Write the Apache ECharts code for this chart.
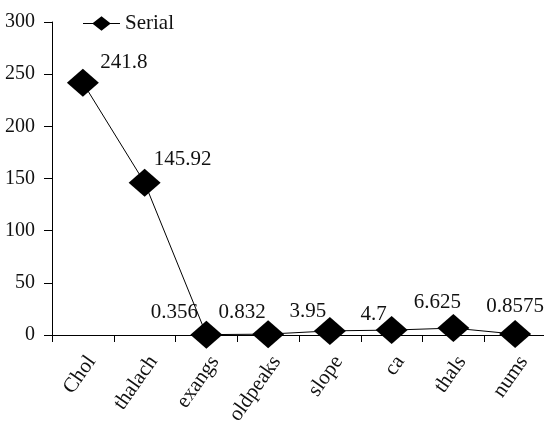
<!DOCTYPE html>
<html>
<head>
<meta charset="utf-8">
<script src="https://cdn.jsdelivr.net/npm/echarts@6/dist/echarts.min.js"></script>
<style>
html,body{margin:0;padding:0;background:#fff;}
#chart{width:544px;height:421px;}
</style>
</head>
<body>
<div id="chart"></div>
<script>
const categories = ["Chol", "thalach", "exangs", "oldpeaks", "slope", "ca", "thals", "nums"];
const serialValues = [241.8, 145.92, 0.356, 0.832, 3.95, 4.7, 6.625, 0.8575];
const yTicks = [0, 50, 100, 150, 200, 250, 300];
const seriesName = "Serial";

// label placement tweaks (style only)
const labelOffsets = [[41, 9], [38, 6], [-32, 7], [-26, 8], [-22, 10], [-18, 14], [-16, 4], [0, 2]];

const FONT = "'Liberation Serif', 'Times New Roman', serif";
const chart = echarts.init(document.getElementById('chart'), null, {renderer: 'canvas'});

const seriesData = serialValues.map((v, i) => ({
  value: v,
  label: {offset: labelOffsets[i]}
}));

const legendIcon = 'path://M0,8.5 H36 V9.5 H0 Z M18,2 L27,9 L18,16 L9,9 Z';

chart.setOption({
  animation: false,
  backgroundColor: '#ffffff',
  grid: {left: 52, right: -2, top: 22, bottom: 86, containLabel: false, outerBoundsMode: 'none'},
  legend: {
    show: true,
    left: 78,
    top: 8,
    itemWidth: 37,
    itemHeight: 18,
    itemGap: 6,
    data: [{name: seriesName, icon: legendIcon}],
    itemStyle: {color: '#000'},
    textStyle: {fontFamily: FONT, fontSize: 21, color: '#111', padding: [0, 0, 0, 0]}
  },
  xAxis: {
    type: 'category',
    data: categories,
    boundaryGap: true,
    axisLine: {show: true, lineStyle: {color: '#000', width: 1}},
    axisTick: {show: true, length: 7, lineStyle: {color: '#000'}},
    axisLabel: {rotate: 55, margin: 17, verticalAlign: 'top', fontFamily: FONT, fontSize: 21, color: '#111'},
    splitLine: {show: false}
  },
  yAxis: {
    type: 'value',
    min: yTicks[0],
    max: yTicks[yTicks.length - 1],
    interval: 50,
    axisLine: {show: true, lineStyle: {color: '#000', width: 1}},
    axisTick: {show: true, length: 8, lineStyle: {color: '#000'}},
    axisLabel: {margin: 17, fontFamily: FONT, fontSize: 20, color: '#111'},
    splitLine: {show: false}
  },
  series: [{
    name: seriesName,
    type: 'line',
    data: seriesData,
    symbol: 'diamond',
    symbolSize: [32, 28],
    itemStyle: {color: '#000'},
    lineStyle: {color: '#000', width: 1},
    label: {
      show: true,
      position: 'top',
      fontFamily: FONT,
      fontSize: 21,
      color: '#111',
      formatter: p => String(serialValues[p.dataIndex])
    }
  }]
});
</script>
</body>
</html>
